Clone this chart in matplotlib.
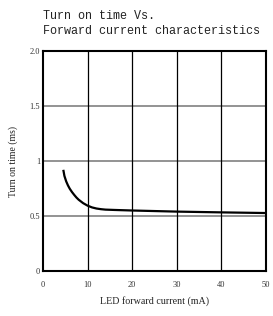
import matplotlib.pyplot as plt
import numpy as np

# LED forward current (mA) and turn on time (ms)
current = [4.6, 4.8, 5.2, 5.6, 6, 6.5, 7, 7.5, 8, 9, 10, 11, 12, 13, 14, 16, 20, 30, 40, 50]
turn_on = [0.91, 0.865, 0.815, 0.778, 0.748, 0.718, 0.692, 0.668, 0.648, 0.617, 0.594, 0.578, 0.568, 0.562, 0.558, 0.555, 0.55, 0.54, 0.533, 0.527]

xticks = [0, 10, 20, 30, 40, 50]
yticks = [0, 0.5, 1, 1.5, 2.0]
ytick_labels = ['0', '0.5', '1', '1.5', '2.0']

fig = plt.figure(figsize=(2.73, 3.16), dpi=100)
ax = fig.add_axes([0.1575, 0.1424, 0.8165, 0.6962])

for yv in yticks[1:-1]:
    ax.axhline(yv, color='#808080', lw=1.2, zorder=1)
for xv in xticks[1:-1]:
    ax.axvline(xv, color='black', lw=0.9, zorder=1)

ax.plot(current, turn_on, color='black', lw=1.6, zorder=3)

ax.set_xlim(0, 50)
ax.set_ylim(0, 2.0)
ax.set_xticks(xticks)
ax.set_yticks(yticks)
ax.set_yticklabels(ytick_labels)
ax.tick_params(length=0, labelsize=6, colors='#333333')
ax.tick_params(axis='x', pad=7)
ax.tick_params(axis='y', pad=2)
for lab in ax.get_xticklabels() + ax.get_yticklabels():
    lab.set_family('Liberation Serif')
for s in ax.spines.values():
    s.set_linewidth(1.5)

ax.set_xlabel('LED forward current (mA)', family='Liberation Serif', fontsize=7.2, labelpad=5, color='#222222')
ax.set_ylabel('Turn on time (ms)', family='Liberation Serif', fontsize=7, labelpad=8, color='#222222')

fig.text(0.1575, 0.968, 'Turn on time Vs.\nForward current characteristics',
         family='Liberation Mono', fontsize=8.5, va='top', ha='left', linespacing=1.3,
         color='#222222')

fig.savefig('out.png', dpi=100)
